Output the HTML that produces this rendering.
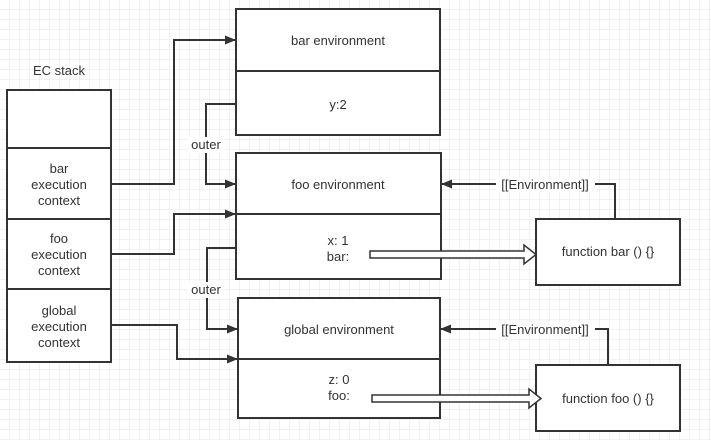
<!DOCTYPE html>
<html><head><meta charset="utf-8"><style>
html,body{margin:0;padding:0;background:#fff;}
svg{display:block;font-family:"Liberation Sans","Noto Sans CJK SC",sans-serif;}
text{fill:#333;font-size:13px;text-anchor:middle;}
</style></head><body>
<svg width="711" height="440" viewBox="0 0 711 440" xmlns="http://www.w3.org/2000/svg">
<defs>
<pattern id="g" width="10" height="10" patternUnits="userSpaceOnUse"><path d="M10 0V10H0" fill="none" stroke="#e6e6e6" stroke-width="1"/></pattern>
<marker id="a" markerWidth="11" markerHeight="9" refX="10" refY="4.5" orient="auto" markerUnits="userSpaceOnUse"><path d="M0 0L11 4.5L0 9z" fill="#333"/></marker>
</defs>
<rect width="711" height="440" fill="url(#g)"/>
<g fill="#fff" stroke="#333" stroke-width="2">
<rect x="7" y="90" width="104" height="272"/>
<line x1="7" y1="148" x2="111" y2="148"/><line x1="7" y1="219" x2="111" y2="219"/><line x1="7" y1="289" x2="111" y2="289"/>
<rect x="236" y="9" width="204" height="126"/><line x1="236" y1="71" x2="440" y2="71"/>
<rect x="236" y="153" width="205" height="126"/><line x1="236" y1="214" x2="441" y2="214"/>
<rect x="238" y="298" width="202" height="120"/><line x1="238" y1="359" x2="440" y2="359"/>
<rect x="536" y="219" width="144" height="66"/>
<rect x="536" y="365" width="144" height="66"/>
</g>
<g fill="none" stroke="#333" stroke-width="2">
<path d="M111 184H174V40H235" marker-end="url(#a)"/>
<path d="M111 254H174V214H235" marker-end="url(#a)"/>
<path d="M111 325H177V359H237" marker-end="url(#a)"/>
<path d="M236 104H206V184H235" marker-end="url(#a)"/>
<path d="M236 248H207V329H237" marker-end="url(#a)"/>
<path d="M615 219V184H442" marker-end="url(#a)"/>
<path d="M608 365V329H441" marker-end="url(#a)"/>
</g>
<g fill="#fff" stroke="#333" stroke-width="1.5">
<path d="M370 251H524V245L536 254.5L524 264V258H370Z"/>
<path d="M372 395H529V389L541 398.5L529 408V402H372Z"/>
</g>
<rect x="188" y="137" width="36" height="16" fill="#fff"/>
<rect x="188" y="282" width="36" height="16" fill="#fff"/>
<rect x="496" y="177" width="99" height="15" fill="#fff"/>
<rect x="496" y="322" width="99" height="15" fill="#fff"/>
<text x="59" y="75">EC stack</text>
<text x="59" y="173">bar</text><text x="59" y="189">execution</text><text x="59" y="205">context</text>
<text x="59" y="243">foo</text><text x="59" y="259">execution</text><text x="59" y="275">context</text>
<text x="59" y="315">global</text><text x="59" y="331">execution</text><text x="59" y="347">context</text>
<text x="338" y="45">bar environment</text>
<text x="338" y="109">y:2</text>
<text x="338" y="189">foo environment</text>
<text x="338" y="245">x: 1</text><text x="338" y="261">bar:</text>
<text x="339" y="334">global environment</text>
<text x="339" y="384">z: 0</text><text x="339" y="400">foo:</text>
<text x="206" y="149">outer</text>
<text x="206" y="294">outer</text>
<text x="545" y="189">[[Environment]]</text>
<text x="545" y="334">[[Environment]]</text>
<text x="608" y="256">function bar () {}</text>
<text x="608" y="403">function foo () {}</text>
</svg>
</body></html>
